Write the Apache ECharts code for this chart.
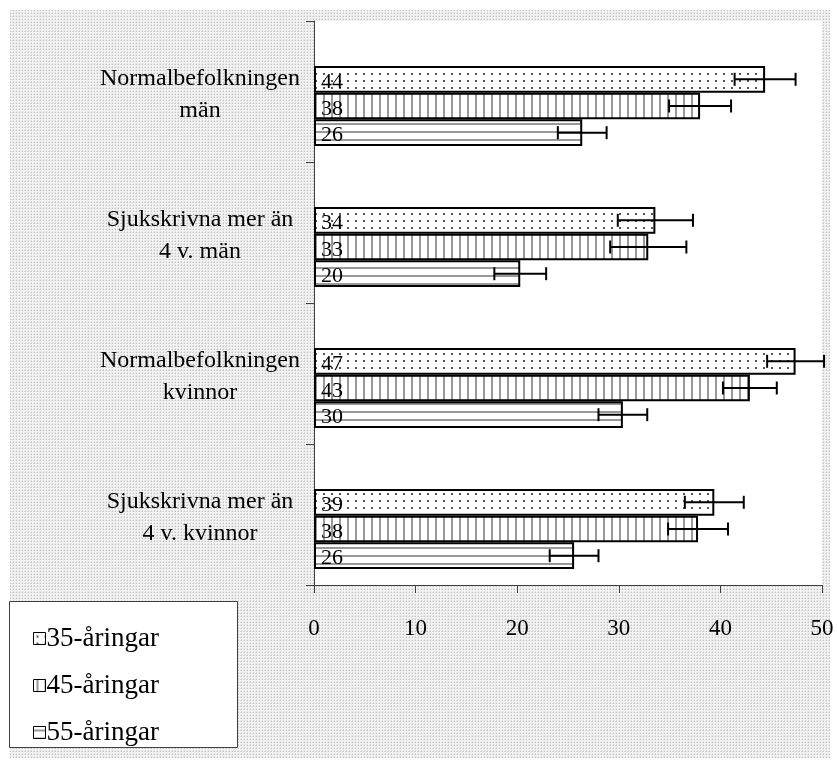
<!DOCTYPE html>
<html><head><meta charset="utf-8">
<script src="https://cdn.jsdelivr.net/npm/echarts@6/dist/echarts.min.js"></script>
<style>html,body{margin:0;padding:0;background:#fff}#c{width:837px;height:767px}</style>
</head><body><div id="c"></div>
<script>
// ---- data ----
const categories = ['Normalbefolkningen\nmän', 'Sjukskrivna mer än\n4 v. män', 'Normalbefolkningen\nkvinnor', 'Sjukskrivna mer än\n4 v. kvinnor'];
const seriesNames = ['35-åringar', '45-åringar', '55-åringar'];
const values35 = [44.4, 33.6, 47.4, 39.4];
const values45 = [38.0, 32.9, 42.9, 37.8];
const values55 = [26.4, 20.3, 30.4, 25.6];
const err35 = [3.0, 3.7, 2.8, 2.9];
const err45 = [3.05, 3.75, 2.65, 2.95];
const err55 = [2.4, 2.55, 2.4, 2.4];
const xMin = 0, xMax = 50, xStep = 10;

// ---- styles ----
const FONT = '"Liberation Serif", "Times New Roman", serif';
const PLACE_W = 29, BAR_W = 26.7;

function tile(w, h, draw) {
  const c = document.createElement('canvas');
  c.width = w; c.height = h;
  const g = c.getContext('2d');
  g.fillStyle = '#fff'; g.fillRect(0, 0, w, h);
  draw(g);
  return {image: c, repeat: 'repeat'};
}
const patDots = tile(8, 7, g => { g.fillStyle = '#555'; g.fillRect(3, 3, 2, 2); });
const patVert = tile(8, 8, g => { g.fillStyle = '#999'; g.fillRect(3, 0, 2, 8); });
const patHorz = tile(8, 8, g => { g.fillStyle = '#999'; g.fillRect(0, 3, 8, 2); });
const patBg = tile(3, 3, g => {
  g.fillStyle = '#f2f2f2'; g.fillRect(0, 0, 3, 3);
  g.fillStyle = '#c4c4c4'; g.fillRect(1, 1, 1, 1);
  g.fillStyle = '#dedede'; g.fillRect(0, 1, 1, 1); g.fillRect(1, 0, 1, 1);
});
const patterns = [patDots, patVert, patHorz];

// bar offsets (placeholder + 3 series), centred group
const groupW = PLACE_W + 3 * BAR_W;
const offsets = [0, 1, 2].map(k => -groupW / 2 + PLACE_W + BAR_W * (k + 0.5));

const allVals = [values35, values45, values55];
const allErr = [err35, err45, err55];
const errData = [];
allVals.forEach((arr, k) => arr.forEach((v, i) => errData.push([i, v, allErr[k][i], k])));

const chart = echarts.init(document.getElementById('c'));
const barSeries = seriesNames.map((n, k) => ({
  name: n, type: 'bar', barWidth: BAR_W, barGap: 0,
  data: allVals[k],
  itemStyle: {color: patterns[k], borderColor: '#000', borderWidth: 2},
  label: {show: true, position: 'insideLeft', distance: 7, offset: [0, 3], color: '#000',
    fontFamily: FONT, fontSize: 22, formatter: p => Math.round(p.value)},
  emphasis: {disabled: true}, z: 2
}));

chart.setOption({
  animation: false,
  backgroundColor: '#fff',
  graphic: [
    {type: 'rect', z: -100, silent: true, shape: {x: 10, y: 10, width: 820, height: 748}, style: {fill: patBg}},
    {type: 'rect', z: 3, silent: true, shape: {x: 9.5, y: 601.5, width: 228, height: 146}, style: {fill: '#fff', stroke: '#404040', lineWidth: 1}}
  ],
  grid: {left: 314, right: 15, top: 21, bottom: 182, show: true, backgroundColor: '#fff', borderWidth: 0},
  legend: {
    orient: 'vertical', left: 28, top: 620, itemWidth: 12, itemHeight: 12, itemGap: 20, icon: 'rect',
    data: seriesNames.map((n, k) => ({name: n, icon: 'rect', itemStyle: {color: patterns[k], borderColor: '#000', borderWidth: 1}})),
    textStyle: {fontFamily: FONT, fontSize: 27, color: '#000', padding: [0, 0, 0, -4]},
    selectedMode: false
  },
  xAxis: {
    type: 'value', min: xMin, max: xMax, interval: xStep,
    axisLine: {show: true, lineStyle: {color: '#404040', width: 1}},
    axisTick: {show: true, length: 8, lineStyle: {color: '#404040'}},
    axisLabel: {fontFamily: FONT, fontSize: 23, color: '#000', margin: 32},
    splitLine: {show: false}
  },
  yAxis: {
    type: 'category', inverse: true, data: categories,
    axisLine: {show: true, lineStyle: {color: '#404040', width: 1}},
    axisTick: {show: true, length: 8, lineStyle: {color: '#404040'}},
    axisLabel: {
      color: '#000', align: 'center', margin: 114,
      formatter: v => v.split('\n').map(s => '{t|' + s + '}').join('\n'),
      rich: {t: {fontFamily: FONT, fontSize: 24, color: '#000', lineHeight: 32, padding: [6, 0, 0, 0]}}
    }
  },
  series: [
    {name: '_gap', type: 'bar', barWidth: PLACE_W, barGap: 0, data: categories.map(() => null), silent: true},
    ...barSeries,
    {
      type: 'custom', z: 5, clip: false, silent: true,
      data: errData, encode: {x: 1, y: 0},
      renderItem(params, api) {
        const cat = api.value(0), v = api.value(1), e = api.value(2), k = api.value(3);
        const c = api.coord([v, cat]);
        const lo = api.coord([v - e, cat]), hi = api.coord([v + e, cat]);
        const y = c[1] + offsets[k];
        const st = {stroke: '#000', lineWidth: 2};
        return {type: 'group', children: [
          {type: 'line', shape: {x1: lo[0], y1: y, x2: hi[0], y2: y}, style: st},
          {type: 'line', shape: {x1: lo[0], y1: y - 6.5, x2: lo[0], y2: y + 6.5}, style: st},
          {type: 'line', shape: {x1: hi[0], y1: y - 6.5, x2: hi[0], y2: y + 6.5}, style: st}
        ]};
      }
    }
  ]
});
</script></body></html>
